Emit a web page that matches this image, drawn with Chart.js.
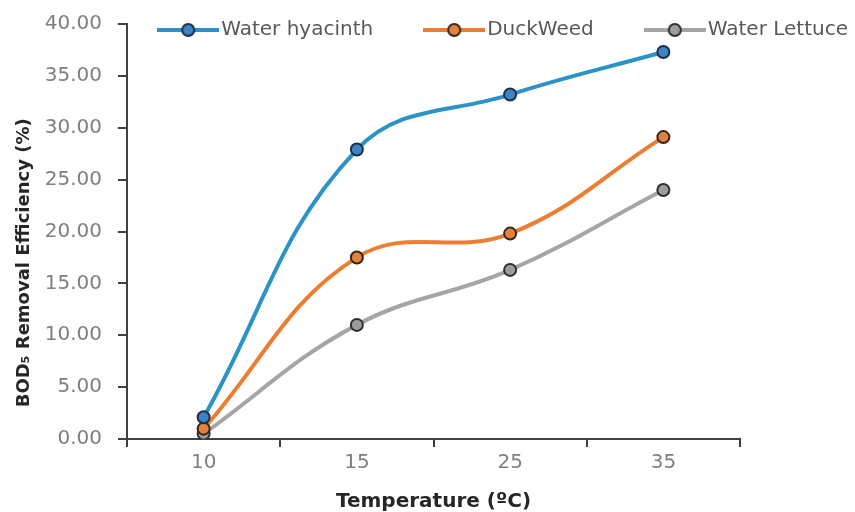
<!DOCTYPE html>
<html>
<head>
<meta charset="utf-8">
<script src="https://cdn.jsdelivr.net/npm/chart.js@4"></script>
<style>
  html, body { margin: 0; padding: 0; background: #fff; }
  #wrap { width: 855px; height: 512px; }
</style>
</head>
<body>
<div id="wrap"><canvas id="bod"></canvas></div>
<script>
// Werte
var temperatures = ["10", "15", "25", "35"];
var hyacinth = [2.1, 27.9, 33.2, 37.3];
var duckweed = [1.0, 17.5, 19.8, 29.1];
var lettuce = [0.5, 11.0, 16.3, 24.0];
var seriesNames = ["Water hyacinth", "DuckWeed", "Water Lettuce"];
var yTicks = { min: 0, max: 40, step: 5 };

var lineColors = ["#2b93c6", "#ed7d31", "#a5a5a5"];
var pointFills = ["#3c84c2", "#e3823f", "#9c9c9c"];
var pointEdges = ["#1c2f4d", "#3a2418", "#2e2e2e"];

Chart.defaults.font.family = "'DejaVu Sans', sans-serif";

// kleine Legendensymbole: Linie mit Kreis in der Mitte
function legendIcon(i) {
  var c = document.createElement("canvas");
  c.width = 62;
  c.height = 18;
  var g = c.getContext("2d");
  g.strokeStyle = lineColors[i];
  g.lineWidth = 4;
  g.beginPath();
  g.moveTo(0, 9);
  g.lineTo(62, 9);
  g.stroke();
  g.beginPath();
  g.arc(31, 9, 6, 0, Math.PI * 2);
  g.fillStyle = pointFills[i];
  g.fill();
  g.lineWidth = 2;
  g.strokeStyle = pointEdges[i];
  g.stroke();
  return c;
}
var icons = [legendIcon(0), legendIcon(1), legendIcon(2)];

function makeSet(i, values) {
  return {
    label: seriesNames[i],
    data: values,
    borderColor: lineColors[i],
    backgroundColor: lineColors[i],
    borderWidth: 4,
    tension: 0.4,
    pointRadius: 6,
    pointHoverRadius: 6,
    pointBorderWidth: 2,
    pointBackgroundColor: pointFills[i],
    pointBorderColor: pointEdges[i],
    fill: false
  };
}

// Legende in den Plotbereich hineinragen lassen
var legendOverlap = {
  id: "legendOverlap",
  beforeInit: function (chart) {
    var origFit = chart.legend.fit;
    chart.legend.fit = function () {
      origFit.bind(chart.legend)();
      this.height = 24;
    };
  },
  afterLayout: function (chart) {
    // Legende nach oben schieben, Clip-Bereich vergrößern
    chart.legend.top = -38;
    chart.legend.bottom = 100;
  }
};

var axisColor = "#404040";
var tickColor = "#7f7f7f";

new Chart(document.getElementById("bod"), {
  type: "line",
  data: {
    labels: temperatures,
    datasets: [makeSet(0, hyacinth), makeSet(1, duckweed), makeSet(2, lettuce)]
  },
  plugins: [legendOverlap],
  options: {
    responsive: true,
    maintainAspectRatio: false,
    animation: false,
    layout: {
      padding: { top: 0, right: -51, bottom: 0, left: 0 }
    },
    plugins: {
      tooltip: { enabled: false },
      legend: {
        position: "top",
        align: "end",
        labels: {
          usePointStyle: true,
          pointStyleWidth: 46,
          padding: 58,
          color: "#595959",
          font: { size: 20 },
          generateLabels: function (chart) {
            var items = Chart.defaults.plugins.legend.labels.generateLabels(chart);
            items.forEach(function (it, i) { it.pointStyle = icons[i]; });
            return items;
          }
        }
      }
    },
    scales: {
      x: {
        offset: true,
        grid: {
          offset: true,
          drawOnChartArea: false,
          drawTicks: true,
          tickLength: 8,
          color: axisColor,
          lineWidth: 2
        },
        border: { color: axisColor, width: 2 },
        ticks: { color: tickColor, font: { size: 20 }, padding: 4 },
        title: {
          display: true,
          text: "Temperature (ºC)",
          color: "#262626",
          font: { size: 20, weight: "bold", lineHeight: 1 },
          padding: { top: 13, bottom: 0 }
        }
      },
      y: {
        min: yTicks.min,
        max: yTicks.max,
        afterFit: function (s) {
          s.width = 127;
          s.paddingTop = 12;
        },
        grid: {
          drawOnChartArea: false,
          drawTicks: true,
          tickLength: 9,
          color: axisColor,
          lineWidth: 2
        },
        border: { color: axisColor, width: 2 },
        ticks: {
          stepSize: yTicks.step,
          color: tickColor,
          font: { size: 20 },
          padding: 16,
          callback: function (v) { return v.toFixed(2); }
        },
        title: {
          display: true,
          text: "BOD₅ Removal Efficiency (%)          ",
          color: "#262626",
          font: { size: 18, weight: "bold" },
          padding: { top: 14, bottom: 0 }
        }
      },
      // leere rechte Achse, hält Platz für die Legende frei
      yRight: {
        position: "right",
        display: true,
        afterFit: function (s) { s.width = 166; },
        grid: { display: false },
        border: { display: false },
        ticks: { display: false }
      }
    }
  }
});
</script>
</body>
</html>
